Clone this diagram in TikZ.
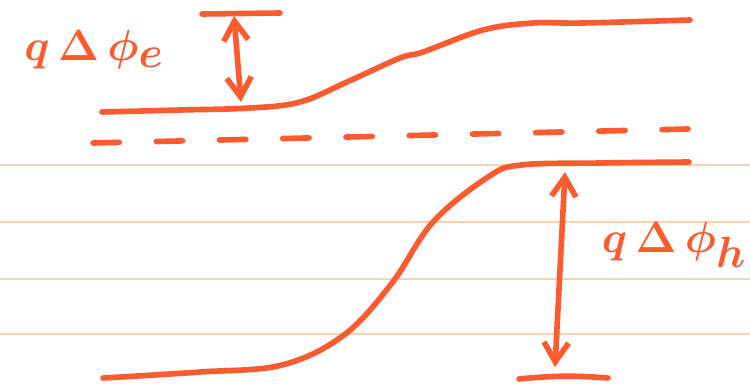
\documentclass[tikz,border=0pt]{standalone}
\usepackage{amsmath}
\usepackage{tikz}
\usetikzlibrary{arrows.meta}

\begin{document}
\begin{tikzpicture}[
    x=0.02cm, y=-0.02cm,
    ink/.style={draw=inkred, line width=3.2pt, line cap=round, line join=round},
    rule/.style={draw=rulecol, line width=1pt},
    gap/.style={ink, {Straight Barb[length=11pt,width=14pt]}-{Straight Barb[length=11pt,width=14pt]}},
    lbl/.style={text=inkred, font=\fontsize{44}{50}\selectfont\boldmath, inner sep=0pt}
]
\definecolor{inkred}{HTML}{FB5B2E}
\definecolor{rulecol}{HTML}{FDD2B0}
\useasboundingbox (0,0) rectangle (750,389);

% linien des papiers
\foreach \y in {165,222,279,334}
    \draw[rule] (0,\y) -- (750,\y);

% obere kurve
\draw[ink] plot[smooth, tension=0.6] coordinates {(102,112) (180,110) (250,108) (300,102)
    (347,82) (400,58) (423,52) (483,30) (533,23) (583,23) (690,20)};

% gestrichelte linie
\draw[ink, dash pattern=on 15pt off 21pt] (93,143) -- (688,129);

% untere kurve
\draw[ink] plot[smooth, tension=0.6] coordinates {(103,378) (200,372) (282,365)
    (344,335) (392,283) (433,222) (488,177) (521,165) (600,163) (689,162)};

% markierungen und pfeile
\coordinate (etop) at (234,16);
\coordinate (ebot) at (241,102);
\coordinate (htop) at (565,172);
\coordinate (hbot) at (555,367);
\draw[ink] (202,14) -- (280,13);
\draw[ink] (519,379) to[bend left=5] (608,378);
\draw[gap] (etop) -- (ebot);
\draw[gap] (htop) -- (hbot);

% beschriftungen
\node[lbl] (le) at (94,50) {$q\,\Delta\,\phi_{e}$};
\node[lbl] (lh) at (674,245) {$q\,\Delta\,\phi_{h}$};

\end{tikzpicture}
\end{document}
